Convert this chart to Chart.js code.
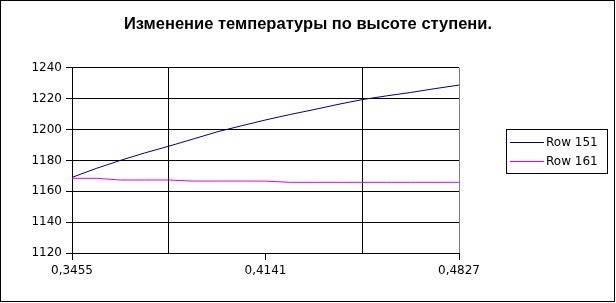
<!DOCTYPE html>
<html>
<head>
<meta charset="utf-8">
<script src="https://cdn.jsdelivr.net/npm/chart.js@4/dist/chart.umd.min.js"></script>
<style>
  html, body { margin: 0; padding: 0; background: #fff; }
  #wrap { width: 616px; height: 303px; }
</style>
</head>
<body>
<div id="wrap"><canvas id="temp-chart" width="616" height="303"></canvas></div>
<script>
// x positions along the step height (category labels)
const xLabels = ['0,3455', '0,3541', '0,3627', '0,3712', '0,3798', '0,3884', '0,3970', '0,4055', '0,4141',
                 '0,4227', '0,4313', '0,4398', '0,4484', '0,4570', '0,4656', '0,4741', '0,4827'];

// series values
const row151 = [1169, 1174.8, 1180, 1184.8, 1189.2, 1193.8, 1198.5, 1202.4, 1206.2,
                1209.7, 1212.9, 1216.3, 1219.4, 1221.8, 1224, 1226.5, 1228.8];
const row161 = [1168.4, 1168.4, 1167.3, 1167.3, 1167.3, 1166.6, 1166.6, 1166.6, 1166.6,
                1165.8, 1165.8, 1165.8, 1165.8, 1165.8, 1165.8, 1165.8, 1165.8];

const seriesNames = ['Row 151', 'Row 161'];
const seriesColors = ['#000080', '#e000e0'];

const titleText = 'Изменение температуры по высоте ступени.';
const yMin = 1120, yMax = 1240, yStep = 20;

// white background + outer frame + boxed legend on the right
const framePlugin = {
    id: 'frame',
    beforeDraw(chart) {
        const c = chart.ctx;
        c.save();
        c.fillStyle = '#fff';
        c.fillRect(0, 0, chart.width, chart.height);
        c.restore();
    },
    afterDraw(chart) {
        const c = chart.ctx;
        c.save();
        c.strokeStyle = '#000';
        c.lineWidth = 1;
        c.strokeRect(0.5, 0.5, 614, 301);

        // legend box
        c.strokeRect(506.5, 129.5, 101, 44);
        c.font = '12px "DejaVu Sans"';
        c.textBaseline = 'middle';
        c.textAlign = 'left';
        chart.data.datasets.forEach((ds, i) => {
            const y = 142.5 + i * 19;
            c.strokeStyle = ds.borderColor;
            c.beginPath();
            c.moveTo(510, y);
            c.lineTo(544, y);
            c.stroke();
            c.fillStyle = '#000';
            c.fillText(ds.label, 546, y);
        });
        c.restore();
    }
};

new Chart(document.getElementById('temp-chart'), {
    type: 'line',
    data: {
        labels: xLabels,
        datasets: [
            {
                label: seriesNames[0],
                data: row151,
                borderColor: seriesColors[0],
                backgroundColor: seriesColors[0],
                borderWidth: 1,
                pointRadius: 0,
                tension: 0
            },
            {
                label: seriesNames[1],
                data: row161,
                borderColor: seriesColors[1],
                backgroundColor: seriesColors[1],
                borderWidth: 1,
                pointRadius: 0,
                tension: 0
            }
        ]
    },
    options: {
        responsive: false,
        animation: false,
        layout: {
            padding: 0
        },
        plugins: {
            legend: { display: false },
            tooltip: { enabled: false },
            title: {
                display: true,
                text: titleText,
                color: '#000',
                font: { family: '"Liberation Sans", Arial, sans-serif', size: 16.5, weight: 'bold' },
                padding: { top: 15, bottom: 33 }
            }
        },
        scales: {
            x: {
                type: 'category',
                offset: false,
                afterFit: scale => { scale.height = 50; },
                border: { display: true, color: '#000', width: 1 },
                grid: {
                    offset: false,
                    drawOnChartArea: true,
                    tickLength: 7,
                    color: ctx => {
                        if (ctx.index === 4 || ctx.index === 12) return '#000';
                        if (ctx.index === xLabels.length - 1) return '#808080';
                        return 'rgba(0,0,0,0)';
                    },
                    tickColor: ctx => (ctx.index % 8 === 0 ? '#000' : 'rgba(0,0,0,0)')
                },
                ticks: {
                    autoSkip: false,
                    maxRotation: 0,
                    color: '#000',
                    padding: 4,
                    font: { family: '"DejaVu Sans"', size: 12 },
                    callback: function(val, i) {
                        return i % 8 === 0 ? this.getLabelForValue(val) : '';
                    }
                }
            },
            y: {
                min: yMin,
                max: yMax,
                afterFit: scale => { scale.width = 72; },
                border: { display: true, color: '#000', width: 1 },
                grid: {
                    color: '#000',
                    tickLength: 6
                },
                ticks: {
                    stepSize: yStep,
                    color: '#000',
                    padding: 4,
                    font: { family: '"DejaVu Sans"', size: 12 },
                    callback: v => String(v)
                }
            },
            // empty axis on the right that keeps room for the legend box
            legendSpace: {
                type: 'linear',
                position: 'right',
                afterFit: scale => { scale.width = 157; },
                border: { display: false },
                grid: { display: false },
                ticks: { display: false }
            }
        }
    },
    plugins: [framePlugin]
});
</script>
</body>
</html>
